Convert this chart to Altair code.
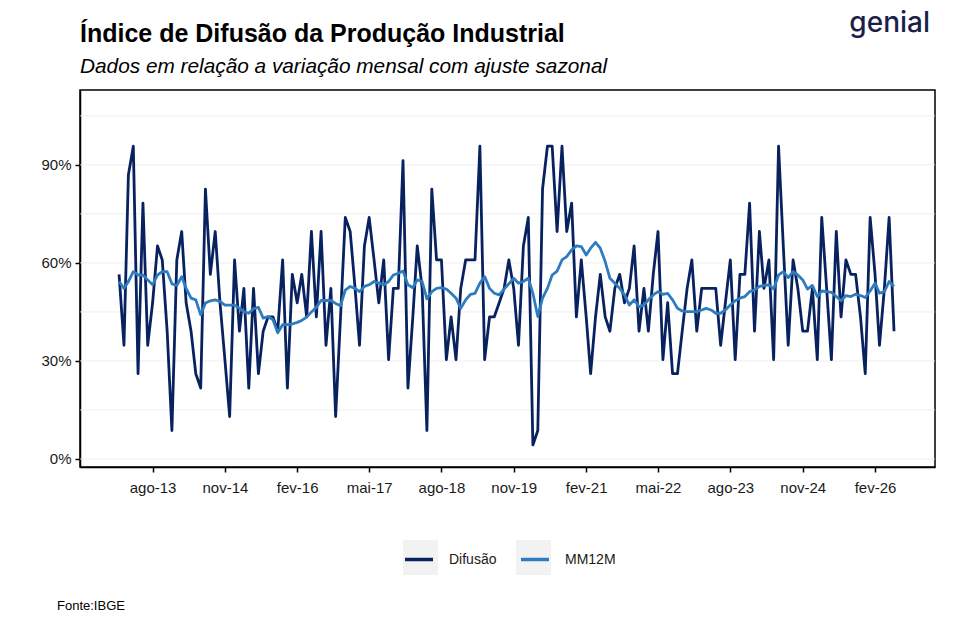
import altair as alt
import pandas as pd

# ---- data ----
difusao = [
    56.5, 34.8, 87.0, 95.7, 26.1, 78.3, 34.8, 47.8, 65.2, 60.9, 39.1, 8.7,
    60.9, 69.6, 47.8, 39.1, 26.1, 21.7, 82.6, 56.5, 69.6, 47.8, 30.4, 13.0,
    60.9, 39.1, 52.2, 21.7, 52.2, 26.1, 39.1, 43.5, 43.5, 39.1, 60.9, 21.7,
    56.5, 47.8, 56.5, 43.5, 69.6, 43.5, 69.6, 34.8, 52.2, 13.0, 43.5, 73.9,
    69.6, 52.2, 34.8, 65.2, 73.9, 60.9, 47.8, 60.9, 30.4, 52.2, 52.2, 91.3,
    21.7, 43.5, 65.2, 52.2, 8.7, 82.6, 60.9, 60.9, 30.4, 43.5, 30.4, 52.2,
    60.9, 60.9, 60.9, 95.7, 30.4, 43.5, 43.5, 47.8, 52.2, 60.9, 52.2, 34.8,
    65.2, 73.9, 4.3, 8.7, 82.6, 95.7, 95.7, 69.6, 95.7, 69.6, 78.3, 43.5,
    60.9, 43.5, 26.1, 43.5, 56.5, 43.5, 39.1, 52.2, 56.5, 47.8, 52.2, 65.2,
    39.1, 52.2, 39.1, 56.5, 69.6, 30.4, 47.8, 26.1, 26.1, 39.1, 52.2, 60.9,
    39.1, 52.2, 52.2, 52.2, 52.2, 34.8, 47.8, 60.9, 30.4, 56.5, 56.5, 78.3,
    39.1, 69.6, 52.2, 60.9, 30.4, 95.7, 65.2, 34.8, 60.9, 52.2, 39.1, 39.1,
    52.2, 30.4, 73.9, 52.2, 30.4, 69.6, 43.5, 60.9, 56.5, 56.5, 43.5, 26.1,
    73.9, 56.5, 34.8, 52.2, 73.9, 39.1,
]
mm12m = [
    54.3, 52.2, 54.3, 57.3, 56.3, 56.3, 54.8, 53.3, 56.3, 57.3, 57.3, 53.6,
    53.1, 55.8, 52.2, 49.2, 48.7, 44.1, 47.7, 48.4, 48.7, 48.2, 47.1, 47.1,
    47.1, 46.1, 45.1, 44.6, 46.0, 46.4, 43.1, 43.6, 42.6, 38.6, 41.1, 41.1,
    41.3, 41.8, 42.4, 43.4, 45.0, 46.4, 48.5, 48.5, 48.5, 47.6, 46.9, 51.7,
    52.8, 52.2, 51.2, 52.8, 53.3, 54.3, 53.8, 53.3, 54.3, 56.3, 56.8, 57.5,
    53.3, 52.4, 54.8, 54.3, 49.0, 51.2, 52.2, 52.4, 52.0, 50.7, 49.2, 46.1,
    48.7, 50.4, 50.7, 53.8, 55.8, 52.2, 50.7, 50.2, 52.0, 53.6, 55.3, 53.8,
    54.3, 55.3, 50.7, 43.6, 49.2, 52.2, 56.3, 57.5, 60.9, 61.9, 64.0, 65.2,
    65.0, 62.4, 64.5, 66.3, 64.5, 60.4, 55.3, 53.8, 52.2, 50.2, 47.1, 48.7,
    46.6, 47.1, 48.7, 50.2, 51.2, 50.4, 50.7, 48.7, 46.1, 45.3, 45.1, 45.1,
    45.1, 45.6, 46.1, 45.6, 44.6, 44.6, 45.6, 47.1, 48.4, 49.2, 49.7, 51.2,
    51.7, 52.8, 53.1, 53.3, 52.0, 56.3, 57.3, 55.5, 57.3, 56.3, 54.8, 52.0,
    53.1, 49.7, 51.4, 51.2, 51.0, 49.7, 48.4, 50.0, 49.7, 50.4, 50.0, 49.4,
    51.4, 53.8, 50.7, 51.2, 54.3, 52.8,
]
first_month = "2013-01-01"
series_names = ["Difusão", "MM12M"]
series_colors = ["#082260", "#2e7cc0"]
x_tick_dates = ["2013-08-01", "2014-11-01", "2016-02-01", "2017-05-01",
                "2018-08-01", "2019-11-01", "2021-02-01", "2022-05-01",
                "2023-08-01", "2024-11-01", "2026-02-01"]
y_ticks = [0, 30, 60, 90]
grid_values = [0, 15, 30, 45, 60, 75, 90, 105]
title_text = "Índice de Difusão da Produção Industrial"
subtitle_text = "Dados em relação a variação mensal com ajuste sazonal"
source_text = "Fonte:IBGE"
logo_text = "genial"

# ---- tables ----
n = len(difusao)
months = list(pd.date_range(first_month, periods=n, freq="MS").strftime("%Y-%m-%d"))
df = pd.DataFrame({
    "data": months + months,
    "valor": difusao + mm12m,
    "serie": [series_names[0]] * n + [series_names[1]] * n,
})
grid_df = pd.DataFrame({"valor": grid_values})
key_df = pd.DataFrame({"k": ["k1", "k2"]})


def utc_dt(s):
    y, m, d = (int(p) for p in s.split("-"))
    return alt.DateTime(year=y, month=m, date=d, utc=True)


FONT = "Liberation Sans"
W, H = 855, 377

xscale = alt.Scale(type="utc", domain=[utc_dt("2012-04-29"), utc_dt("2027-02-15")])
yscale = alt.Scale(domain=[-2.45, 112.9], nice=False, zero=False)

month_expr = ("['jan','fev','mar','abr','mai','jun','jul','ago','set','out','nov','dez']"
              "[utcmonth(datum.value)] + '-' + utcFormat(datum.value, '%y')")

y_axis = alt.Axis(values=y_ticks, labelExpr="datum.value + '%'", grid=False,
                  domainColor="black", domainWidth=1.5,
                  tickColor="black", tickWidth=1.5, tickSize=5,
                  labelFont=FONT, labelFontSize=15, labelColor="#1a1a1a",
                  labelPadding=4)

grid = alt.Chart(grid_df).mark_rule(color="#ebebeb", strokeWidth=0.8).encode(
    y=alt.Y("valor:Q", scale=yscale, title=None, axis=y_axis)
)

lines = alt.Chart(df).mark_line(strokeWidth=2.8, strokeJoin="round").encode(
    x=alt.X("data:T", scale=xscale, title=None,
            axis=alt.Axis(values=[utc_dt(s) for s in x_tick_dates], labelExpr=month_expr,
                          grid=False, domainColor="black", domainWidth=1.5,
                          tickColor="black", tickWidth=1.5, tickSize=5,
                          labelFont=FONT, labelFontSize=15, labelColor="#1a1a1a",
                          labelPadding=8)),
    y=alt.Y("valor:Q", scale=yscale, title=None, axis=y_axis),
    color=alt.Color("serie:N",
                    scale=alt.Scale(domain=series_names, range=series_colors),
                    legend=alt.Legend(title=None, orient="none", legendX=323, legendY=453.5,
                                      direction="horizontal", symbolType="stroke",
                                      symbolSize=784, symbolStrokeWidth=3.5,
                                      labelOffset=14, columnPadding=17,
                                      labelFont=FONT, labelFontSize=14,
                                      labelColor="#1a1a1a", padding=0, zindex=1)),
)

keys = alt.Chart(key_df).mark_square(opacity=1).transform_filter("false").encode(
    fill=alt.Fill("k:N",
                  scale=alt.Scale(domain=["k1", "k2"], range=["#f2f2f2", "#f2f2f2"]),
                  legend=alt.Legend(title=None, orient="none", legendX=323, legendY=450,
                                    direction="horizontal", symbolType="square",
                                    symbolSize=1225, symbolStrokeWidth=0, symbolOpacity=1,
                                    labelExpr="''", labelOffset=0, columnPadding=78,
                                    padding=0, zindex=0))
)


def text_layer(txt, x, y, **kw):
    return alt.Chart(pd.DataFrame({"t": [txt]})).mark_text(**kw).encode(
        x=alt.value(x), y=alt.value(y), text="t:N")


title = text_layer(title_text, 0, -48, align="left", baseline="alphabetic",
                   font=FONT, fontSize=25, fontWeight="bold", color="black")
subtitle = text_layer(subtitle_text, 0, -17, align="left", baseline="alphabetic",
                      font=FONT, fontSize=20.8, fontStyle="italic", color="black")
logo = text_layer(logo_text, 850, -58, align="right", baseline="alphabetic",
                  font="Inter", fontSize=28, fontWeight=500, color="#1c1f4a")
source = text_layer(source_text, -23, 520, align="left", baseline="alphabetic",
                    font=FONT, fontSize=13, color="black")

chart = alt.layer(grid, keys, lines, title, subtitle, logo, source).properties(
    width=W, height=H,
    background="white",
    autosize=alt.AutoSizeParams(type="none"),
    padding={"left": 72, "top": 82, "right": 13, "bottom": 150},
).configure_view(stroke="black", strokeWidth=1.5)

chart.save("out.html", embed_options={"renderer": "svg", "actions": False})
